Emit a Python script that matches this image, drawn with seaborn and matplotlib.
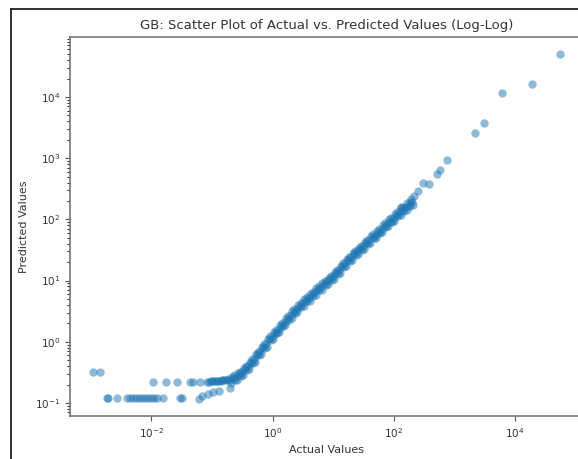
import matplotlib
matplotlib.use("Agg")
import matplotlib.pyplot as plt
from matplotlib.lines import Line2D
from matplotlib.ticker import LogLocator, NullLocator
import pandas as pd
import seaborn as sns

# Main band of predictions (actual vs. predicted)
band_actual = [
    0.200, 0.224, 0.251, 0.282, 0.316, 0.355, 0.398, 0.447, 0.501, 0.562,
    0.631, 0.708, 0.794, 0.891, 1.00, 1.12, 1.26, 1.41, 1.58, 1.78,
    2.00, 2.24, 2.51, 2.82, 3.16, 3.55, 3.98, 4.47, 5.01, 5.62,
    6.31, 7.08, 7.94, 8.91, 10.0, 11.2, 12.6, 14.1, 15.8, 17.8,
    20.0, 22.4, 25.1, 28.2, 31.6, 35.5, 39.8, 44.7, 50.1, 56.2,
    63.1, 70.8, 79.4, 89.1, 100, 112, 126, 141, 158, 178, 200,
    0.211, 0.237, 0.266, 0.299, 0.335, 0.376, 0.422, 0.473, 0.531, 0.596,
    0.668, 0.750, 0.841, 0.944, 1.06, 1.19, 1.33, 1.50, 1.68, 1.88,
    2.11, 2.37, 2.66, 2.99, 3.35, 3.76, 4.22, 4.73, 5.31, 5.96,
    6.68, 7.50, 8.41, 9.44, 10.6, 11.9, 13.3, 15.0, 16.8, 18.8,
    21.1, 23.7, 26.6, 29.9, 33.5, 37.6, 42.2, 47.3, 53.1, 59.6,
    66.8, 75.0, 84.1, 94.4, 106, 119, 133, 150, 168, 188,
    0.206, 0.230, 0.258, 0.290, 0.325, 0.365, 0.410, 0.460, 0.516, 0.578,
    0.649, 0.729, 0.817, 0.917, 1.03, 1.15, 1.30, 1.45, 1.63, 1.83,
    2.06, 2.30, 2.58, 2.90, 3.25, 3.65, 4.10, 4.60, 5.16, 5.78,
    6.49, 7.29, 8.17, 9.17, 10.3, 11.5, 13.0, 14.5, 16.3, 18.3,
    20.6, 23.0, 25.8, 29.0, 32.5, 36.5, 41.0, 46.0, 51.6, 57.8,
    64.9, 72.9, 81.7, 91.7, 103, 115, 130, 145, 163, 183, 206,
]
band_predicted = [
    0.240, 0.251, 0.269, 0.288, 0.316, 0.355, 0.398, 0.457, 0.525, 0.617,
    0.708, 0.813, 0.933, 1.10, 1.26, 1.41, 1.62, 1.82, 2.09, 2.34,
    2.69, 3.02, 3.39, 3.80, 4.27, 4.79, 5.25, 5.89, 6.46, 7.24,
    7.94, 8.91, 9.77, 10.7, 12.0, 13.5, 15.1, 17.0, 19.1, 21.4,
    24.0, 26.9, 30.2, 33.1, 37.2, 41.7, 45.7, 51.3, 56.2, 63.1,
    70.8, 77.6, 87.1, 95.5, 107, 117, 132, 145, 158, 174, 191,
    0.269, 0.237, 0.305, 0.275, 0.367, 0.343, 0.468, 0.447, 0.624, 0.603,
    0.832, 0.794, 1.11, 1.07, 1.46, 1.38, 1.88, 1.78, 2.43, 2.29,
    3.13, 2.92, 3.94, 3.67, 4.95, 4.57, 6.10, 5.62, 7.50, 6.92,
    9.23, 8.51, 11.2, 10.4, 14.0, 13.0, 17.6, 16.4, 22.1, 20.7,
    27.9, 26.0, 34.7, 32.0, 43.2, 39.8, 53.1, 49.0, 65.3, 61.0,
    81.3, 75.0, 100, 92.3, 123, 114, 151, 138, 182, 166,
    0.214, 0.282, 0.240, 0.324, 0.282, 0.398, 0.355, 0.513, 0.468, 0.692,
    0.631, 0.912, 0.832, 1.23, 1.12, 1.58, 1.45, 2.04, 1.86, 2.63,
    2.40, 3.39, 3.02, 4.27, 3.80, 5.37, 4.68, 6.61, 5.75, 8.13,
    7.08, 10.0, 8.71, 12.0, 10.7, 15.1, 13.5, 19.1, 17.0, 24.0,
    21.4, 30.2, 26.9, 37.2, 33.1, 46.8, 40.7, 57.5, 50.1, 70.8,
    63.1, 87.1, 77.6, 107, 95.5, 132, 117, 162, 141, 195, 170,
]

# Large values in the upper tail
tail_actual = [132, 190, 213, 250, 300, 380, 515, 575, 750, 2180, 3080, 6100, 19000, 55000]
tail_predicted = [162, 219, 245, 288, 390, 375, 550, 635, 930, 2570, 3730, 11700, 16300, 50000]

# Small actual values where the predictions level off
low_actual = [
    0.00110, 0.00144,
    0.00185, 0.00192, 0.00275, 0.0040, 0.0045, 0.0050, 0.0056, 0.0063,
    0.0071, 0.0079, 0.0089, 0.0100, 0.0112, 0.0126, 0.0158, 0.030, 0.032,
    0.060, 0.069, 0.085, 0.105, 0.129, 0.195,
    0.0105, 0.0174, 0.0269, 0.0427, 0.0479, 0.0646, 0.0813, 0.090, 0.095,
    0.102, 0.110, 0.115, 0.120, 0.129, 0.140, 0.148, 0.155, 0.165, 0.175, 0.186,
]
low_predicted = [
    0.32, 0.32,
    0.12, 0.12, 0.12, 0.12, 0.12, 0.12, 0.12, 0.12,
    0.12, 0.12, 0.12, 0.12, 0.12, 0.12, 0.12, 0.12, 0.12,
    0.117, 0.129, 0.141, 0.151, 0.158, 0.178,
    0.22, 0.22, 0.22, 0.22, 0.22, 0.22, 0.22, 0.22, 0.225,
    0.225, 0.225, 0.228, 0.23, 0.23, 0.232, 0.235, 0.235, 0.238, 0.24, 0.242,
]

df = pd.DataFrame({
    "actual": low_actual + band_actual + tail_actual,
    "predicted": low_predicted + band_predicted + tail_predicted,
})

W, H = 578, 459
fig = plt.figure(figsize=(W / 100, H / 100), dpi=100)
ax = fig.add_axes([70 / W, (H - 416) / H, 513 / W, 379 / H])

sns.scatterplot(data=df, x="actual", y="predicted", ax=ax,
                color="#1f77b4", alpha=0.5, s=36, linewidth=0)
ax.set_xscale("log")
ax.set_yscale("log")

# Major x ticks every second decade
ax.xaxis.set_major_locator(LogLocator(base=10, subs=(1.0,), numticks=5))
ax.xaxis.set_minor_locator(NullLocator())

ax.set_title("GB: Scatter Plot of Actual vs. Predicted Values (Log-Log)", fontsize=9.5, color="#333333")
ax.set_xlabel("Actual Values", fontsize=8, color="#333333")
ax.set_ylabel("Predicted Values", fontsize=8, color="#333333")
ax.tick_params(labelsize=7.5, labelcolor="#333333", colors="#555555")
for sp in ax.spines.values():
    sp.set_color("#777777")
    sp.set_linewidth(1.2)

# Outer frame around the output cell
fig.add_artist(Line2D([11 / W, 11 / W], [0, 1 - 9 / H], transform=fig.transFigure, color="#222222", lw=1.3))
fig.add_artist(Line2D([11 / W, 1], [1 - 9 / H, 1 - 9 / H], transform=fig.transFigure, color="#222222", lw=1.3))

fig.savefig("out.png", dpi=100)
